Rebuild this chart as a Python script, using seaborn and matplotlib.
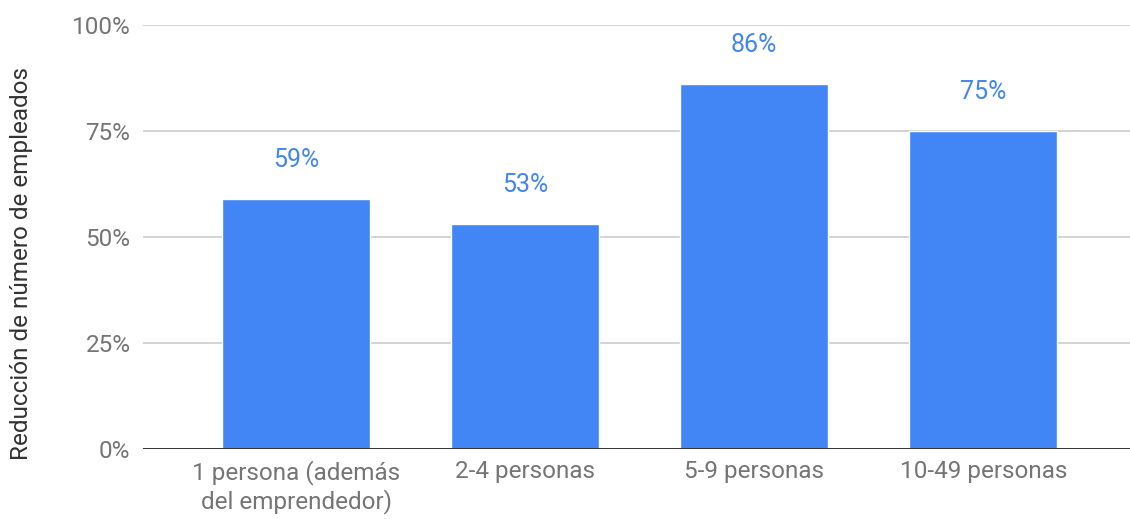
import matplotlib
matplotlib.use("Agg")
import matplotlib.pyplot as plt
import matplotlib.ticker as mticker
import seaborn as sns

# ── Data ─────────────────────────────────────────────────────────────────────
categories = ["1 persona (además\ndel emprendedor)", "2-4 personas", "5-9 personas", "10-49 personas"]
values = [0.59, 0.53, 0.86, 0.75]
y_ticks = [0, 0.25, 0.5, 0.75, 1.0]
y_label = "Reducción de número de empleados"

BLUE = "#4285F4"
GREY = "#757575"

sns.set_theme(style="white")
plt.rcParams["font.family"] = ["Roboto", "DejaVu Sans"]

fig = plt.figure(figsize=(11.3, 5.19), dpi=100)
ax = fig.add_axes([143 / 1130, 1 - 449 / 519, 1 - 143 / 1130, (449 - 25) / 519])

sns.barplot(x=categories, y=values, color=BLUE, width=0.646, saturation=1, ax=ax, zorder=3)

ax.set_ylim(0, 1.0)
ax.set_xlim(-0.668, 3.64)
ax.set_yticks(y_ticks)
ax.yaxis.set_major_formatter(mticker.FuncFormatter(lambda v, _: f"{v * 100:.0f}%"))
ax.grid(axis="y", color="#cccccc", linewidth=1.2, zorder=0)
ax.axhline(0, color="#333333", linewidth=1.4, zorder=4)
for s in ax.spines.values():
    s.set_visible(False)
ax.tick_params(axis="both", length=0, labelsize=17.5, labelcolor=GREY)
ax.tick_params(axis="x", pad=8)
ax.tick_params(axis="y", pad=9)
ax.set_xlabel("")
ax.set_ylabel("")

for i, v in enumerate(values):
    ax.annotate(f"{v * 100:.0f}%", (i, v), xytext=(0, 28), textcoords="offset points",
                ha="center", va="center", color=BLUE, fontsize=18)

fig.text(22 / 1130, 1 - 263 / 519, y_label, rotation=90, ha="center", va="center",
         fontsize=17.5, color="#333333")

fig.savefig("out.png", dpi=100)
